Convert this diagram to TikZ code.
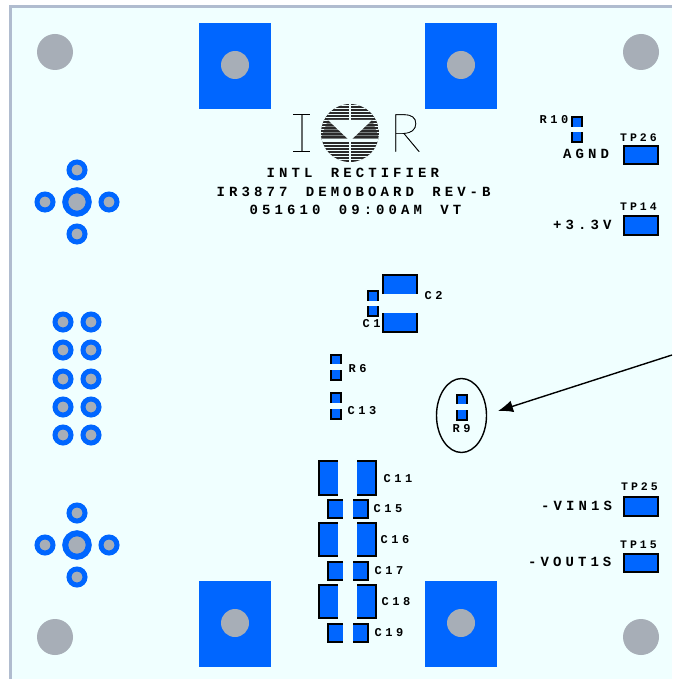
\documentclass[tikz,border=0pt]{standalone}
\usepackage{fontspec}
\usetikzlibrary{arrows.meta,shapes.geometric}
\newfontfamily\lblfont[LetterSpace=29]{Liberation Mono Bold}
\newfontfamily\midfont[LetterSpace=29,WordSpace=1.48]{Liberation Mono Bold}
\newfontfamily\tpfont[LetterSpace=26]{Liberation Mono Bold}
\newfontfamily\thinfont[FakeBold=0.3]{Lato Thin}
\definecolor{board}{HTML}{F0FFFF}
\definecolor{edge}{HTML}{B0BCCF}
\definecolor{padblue}{HTML}{0066FF}
\definecolor{holegrey}{HTML}{A7AEB7}
\definecolor{logodark}{HTML}{2A2A2A}
\tikzset{
  lbl/.style={anchor=west,inner sep=0pt,font=\fontsize{12}{13}\lblfont},
  mid/.style={anchor=west,inner sep=0pt,font=\fontsize{14}{15}\midfont},
  tp/.style={anchor=west,inner sep=0pt,font=\fontsize{11.5}{12}\tpfont},
  mount/.style={circle,fill=holegrey,minimum size=36pt,inner sep=0pt},
  bighole/.style={circle,fill=holegrey,minimum size=28pt,inner sep=0pt},
  viaS/.style={circle,fill=holegrey,draw=padblue,line width=5pt,minimum size=16pt,inner sep=0pt},
  viaL/.style={circle,fill=holegrey,draw=padblue,line width=6pt,minimum size=23.5pt,inner sep=0pt},
  padline/.style={draw=black,line width=1.8pt},
}
\newcommand{\padrect}[4]{\fill[padblue] (#1,#2) rectangle (#3,#4);\draw[padline] (#1+.7,#2+.7) rectangle (#3-.7,#4-.7);}
\newcommand{\vpair}[6]{%
  \fill[padblue] (#1,#3) rectangle (#2,#4);\fill[padblue] (#1,#5) rectangle (#2,#6);
  \draw[padline] (#1+.7,#4) -- (#1+.7,#3+.7) -- (#2-.7,#3+.7) -- (#2-.7,#4);
  \draw[padline] (#1+.7,#5) -- (#1+.7,#6-.7) -- (#2-.7,#6-.7) -- (#2-.7,#5);}
\newcommand{\hpair}[6]{%
  \fill[padblue] (#1,#5) rectangle (#2,#6);\fill[padblue] (#3,#5) rectangle (#4,#6);
  \draw[padline] (#2,#5+.7) -- (#1+.7,#5+.7) -- (#1+.7,#6-.7) -- (#2,#6-.7);
  \draw[padline] (#3,#5+.7) -- (#4-.7,#5+.7) -- (#4-.7,#6-.7) -- (#3,#6-.7);}
\begin{document}
\begin{tikzpicture}[x=1pt,y=-1pt]
\useasboundingbox (0,0) rectangle (672,679);
\fill[white] (0,0) rectangle (672,679);
\fill[board] (10,7) rectangle (672,679);
\draw[edge,line width=3pt] (10,679) -- (10,7) -- (672,7);
% mounting holes
\node[mount] (m1) at (55,52) {};
\node[mount] (m2) at (641,52) {};
\node[mount] (m3) at (55,637) {};
\node[mount] (m4) at (641,637) {};
% big pads
\foreach \cx/\cy/\nm in {235/65/a,461/65/b,235/623/c,461/623/d}{
  \fill[padblue] (\cx-36,\cy-42) rectangle (\cx+36,\cy+44);
  \node[bighole] (big\nm) at (\cx,\cy) {};
}
% cross connectors
\foreach \yc/\nm in {202/t,545/b}{
  \node[viaL] (cc\nm) at (77,\yc) {};
  \node[viaS] (cn\nm) at (77,\yc-32) {};
  \node[viaS] (cs\nm) at (77,\yc+32) {};
  \node[viaS] (cw\nm) at (45,\yc) {};
  \node[viaS] (ce\nm) at (109,\yc) {};
}
% dual row
\foreach \yy in {322,350,379,407,435}{
  \node[viaS] (l\yy) at (63,\yy) {};
  \node[viaS] (r\yy) at (91,\yy) {};
}
% logo
\begin{scope}
  \clip (350,133) circle (29);
  \fill[logodark] (321,104) rectangle (379,162);
  \foreach \k in {0,...,19}{
    \fill[board] (321,104.9+3*\k) rectangle (379,105.5+3*\k);
  }
  \fill[logodark,opacity=.6] (328,120) -- (350,140) -- (372,120) -- (380,140) -- (320,140) -- cycle;
  \fill[board] (328,120) -- (372,120) -- (350,141) -- cycle;
  \fill[board] (321,139.3) rectangle (379,141.3);
  \fill[board] (349,104) rectangle (351,122);
  \fill[board] (349,140) rectangle (351,162);
\end{scope}
\node[anchor=center,inner sep=0pt,font=\fontsize{53}{53}\thinfont] (logoI) at (302,133) {I};
\draw[black,line width=0.8pt] (293,114.5) -- (310,114.5) (293,151.5) -- (310,151.5);
\node[anchor=center,inner sep=0pt,font=\fontsize{53}{53}\thinfont] (logoR) at (405,133) {R};
% title
\node[mid] (t1) at (266.5,173) {INTL RECTIFIER};
\node[mid] (t2) at (216.5,192) {IR3877 DEMOBOARD REV-B};
\node[mid] (t3) at (249.5,210) {051610 09:00AM VT};
% small parts
\vpair{571}{583}{116}{127}{132}{143}
\vpair{382}{418}{274}{294}{313}{333}
\vpair{367}{379}{290}{301}{306}{317}
\vpair{330}{342}{354}{364}{370}{381}
\vpair{330}{342}{392}{403}{409}{420}
\vpair{456}{468}{394}{404}{410}{421}
% capacitor column
\hpair{318}{338}{357}{377}{460}{496}
\hpair{327}{343}{353}{369}{499}{519}
\hpair{318}{338}{357}{377}{522}{557}
\hpair{327}{343}{353}{369}{561}{581}
\hpair{318}{338}{357}{377}{584}{619}
\hpair{327}{343}{353}{369}{623}{643}
% test points
\padrect{623}{145}{659}{165}
\padrect{623}{215}{659}{236}
\padrect{623}{496}{659}{517}
\padrect{623}{553}{659}{573}
% labels
\node[lbl] (lC2) at (424.5,296) {C2};
\node[lbl] (lC1) at (362.5,324) {C1};
\node[lbl] (lR6) at (348.5,369) {R6};
\node[lbl] (lC13) at (347.5,411) {C13};
\node[lbl] (lR9) at (452.5,429) {R9};
\node[lbl] (lC11) at (383.5,479) {C11};
\node[lbl] (lC15) at (373.5,509) {C15};
\node[lbl] (lC16) at (380.5,540) {C16};
\node[lbl] (lC17) at (374.5,571) {C17};
\node[lbl] (lC18) at (381.5,602) {C18};
\node[lbl] (lC19) at (374.5,633) {C19};
\node[lbl] (lR10) at (539.5,120) {R10};
\node[mid] (lAGND) at (563,154) {AGND};
\node[tp] (lTP26) at (620,138) {TP26};
\node[tp] (lTP14) at (620,207) {TP14};
\node[mid] (l33) at (553,225) {+3.3V};
\node[tp] (lTP25) at (621,487) {TP25};
\node[mid] (lVIN) at (541,506) {-VIN1S};
\node[tp] (lTP15) at (620,545) {TP15};
\node[mid] (lVOUT) at (528,562) {-VOUT1S};
% callout
\node[draw=black,line width=1.4pt,ellipse,minimum width=50pt,minimum height=74pt,inner sep=0pt] (ring) at (461.5,415.5) {};
\coordinate (arrowstart) at (672,355);
\coordinate (arrowtip) at (498,411);
\draw[black,line width=1.4pt,-{Latex[length=15pt,width=12pt]}] (arrowstart) -- (arrowtip);
\end{tikzpicture}
\end{document}
